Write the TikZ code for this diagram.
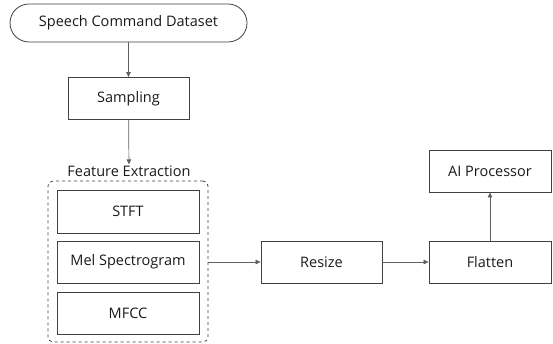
\documentclass[tikz,border=0pt]{standalone}
\usepackage{fontspec}
\setmainfont{Open Sans}
\usetikzlibrary{arrows.meta,positioning}
\definecolor{boxline}{HTML}{404040}
\definecolor{arrline}{HTML}{606060}
\definecolor{txt}{HTML}{1A1A1A}
\begin{document}
\begin{tikzpicture}[x=1pt,y=1pt,
  box/.style={draw=boxline, line width=0.8pt, minimum height=42pt, inner sep=0pt, text=txt, font=\fontsize{14.5}{17}\selectfont},
  conn/.style={draw=arrline, line width=0.7pt, -{Triangle[length=5pt,width=4.5pt]}}]
\useasboundingbox (0,0) rectangle (553,344);
\node[box, minimum width=237pt, minimum height=38pt, rounded corners=19pt] (ds) at (128.5,321) {Speech Command Dataset};
\node[box, minimum width=121pt] (samp) at (128.5,245.5) {Sampling};
\node[text=txt, font=\fontsize{14.5}{17}\selectfont, inner sep=1pt] (lab) at (129,173) {Feature Extraction};
\node[draw=boxline, line width=0.8pt, dashed, rounded corners=5pt, minimum width=160pt, minimum height=161pt] (fe) at (128,82.5) {};
\node[box, minimum width=142pt, minimum height=43pt] (stft) at (128,132.5) {STFT};
\node[box, minimum width=142pt] (mel) at (128,82) {Mel Spectrogram};
\node[box, minimum width=142pt] (mfcc) at (128,31) {MFCC};
\node[box, minimum width=121pt] (resize) at (321.5,82) {Resize};
\node[box, minimum width=122pt] (flat) at (490,82) {Flatten};
\node[box, minimum width=122pt] (ai) at (490,173) {AI Processor};
\draw[conn] (ds) -- (samp);
\draw[conn] (samp) -- (lab);
\draw[conn] (fe.east |- mel) -- (resize);
\draw[conn] (resize) -- (flat);
\draw[conn] (flat) -- (ai);
\end{tikzpicture}
\end{document}
